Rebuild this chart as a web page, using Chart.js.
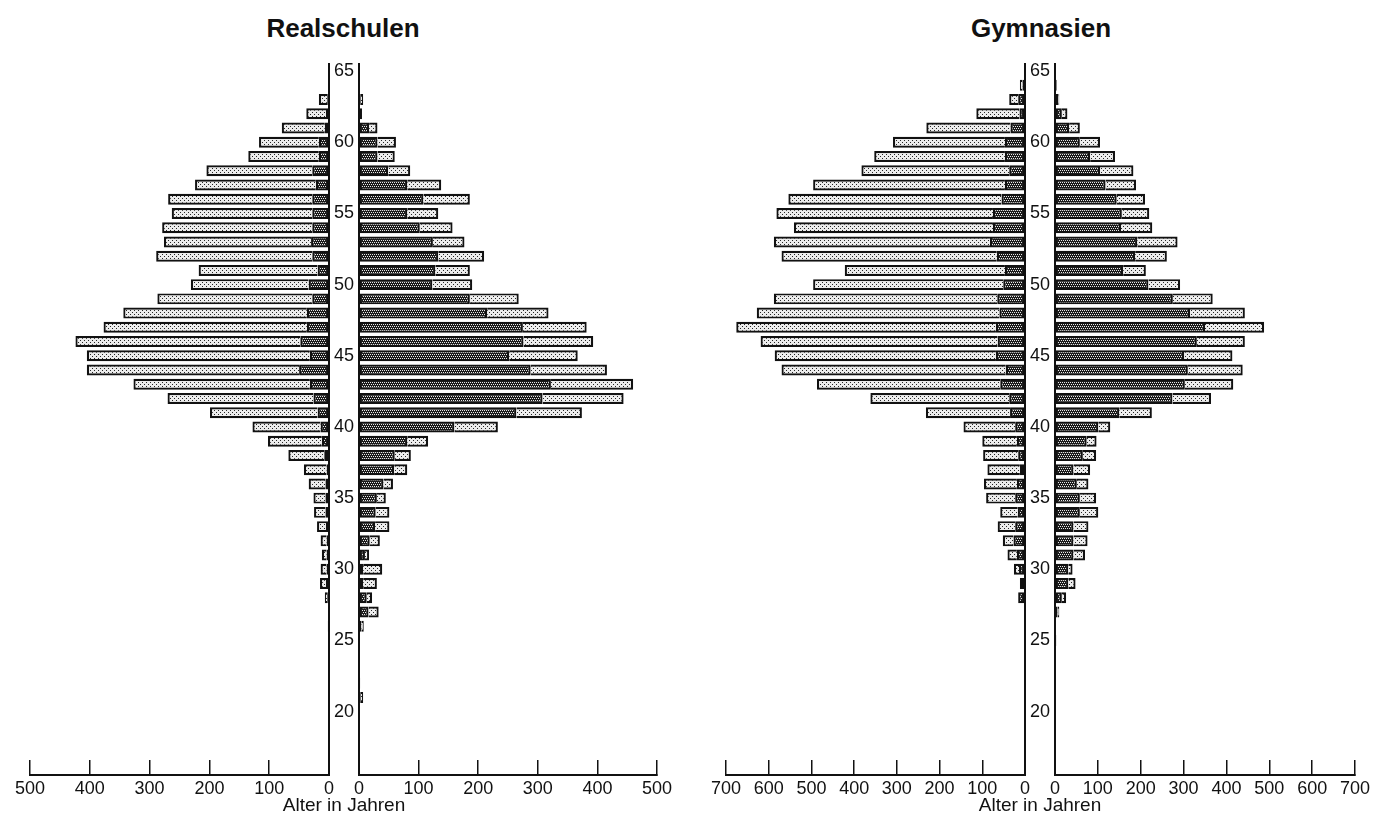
<!DOCTYPE html>
<html lang="de">
<head>
<meta charset="utf-8">
<title>Altersaufbau Realschulen und Gymnasien</title>
<script src="https://cdn.jsdelivr.net/npm/chart.js@4.4.1/dist/chart.umd.min.js"></script>
<style>
  html, body { margin: 0; padding: 0; background: #fff; }
  body {
    width: 1377px; height: 815px; position: relative; overflow: hidden;
    font-family: "Liberation Sans", Arial, sans-serif; color: #111;
  }
  canvas { position: absolute; top: 0; }
  .titel {
    position: absolute; top: 13px; font-size: 26px; font-weight: bold;
    transform: translateX(-50%); white-space: nowrap;
  }
  .achse {
    position: absolute; top: 794px; font-size: 19px;
    transform: translateX(-50%); white-space: nowrap;
  }
</style>
</head>
<body>
<div class="titel" style="left:343px">Realschulen</div>
<div class="titel" style="left:1041px">Gymnasien</div>

<canvas id="realLinks" width="340" height="815" style="left:0px"></canvas>
<canvas id="realRechts" width="350" height="815" style="left:329px"></canvas>
<canvas id="gymLinks" width="340" height="815" style="left:696px"></canvas>
<canvas id="gymRechts" width="352" height="815" style="left:1025px"></canvas>

<div class="achse" style="left:344px">Alter in Jahren</div>
<div class="achse" style="left:1040px">Alter in Jahren</div>

<script>
// Altersjahre 20 bis 64, jeweils ein Wert pro Jahr
const ages = [];
for (let a = 20; a <= 64; a++) ages.push(a);
const ageTicks = [20, 25, 30, 35, 40, 45, 50, 55, 60, 65];

// Realschulen, linke Seite (innen dunkel, außen hell)
const realLeftDark = [
  0, 0, 0, 0, 0, 0, 2, 0, 3, 5,
  4, 4, 4, 5, 6, 6, 6, 4, 8, 12,
  14, 19, 26, 32, 50, 32, 48, 37, 37, 28,
  34, 19, 28, 30, 28, 28, 28, 22, 28, 17,
  17, 7, 5, 3, 0
];
const realLeftLight = [
  0, 0, 0, 0, 0, 0, 0, 0, 4, 10,
  10, 8, 10, 15, 19, 20, 28, 38, 60, 90,
  114, 180, 244, 295, 355, 373, 376, 340, 307, 259,
  197, 199, 261, 246, 251, 235, 241, 202, 177, 118,
  100, 72, 33, 14, 0
];
// Realschulen, rechte Seite
const realRightDark = [
  0, 3, 2, 0, 0, 0, 4, 16, 13, 7,
  7, 10, 18, 27, 28, 30, 41, 59, 60, 81,
  160, 264, 308, 322, 288, 252, 276, 275, 215, 186,
  123, 128, 133, 124, 102, 81, 108, 81, 49, 31,
  31, 17, 5, 3, 0
];
const realRightLight = [
  0, 4, 0, 0, 0, 0, 4, 17, 9, 23,
  32, 7, 17, 24, 23, 15, 16, 22, 27, 35,
  73, 110, 136, 138, 128, 115, 117, 107, 103, 82,
  67, 58, 77, 53, 55, 52, 78, 57, 37, 29,
  31, 14, 0, 4, 0
];

// Gymnasien, linke Seite
const gymLeftDark = [
  0, 0, 0, 0, 0, 0, 0, 0, 16, 12,
  14, 19, 27, 23, 17, 23, 19, 12, 16, 19,
  23, 35, 37, 58, 45, 68, 64, 68, 60, 65,
  51, 47, 66, 82, 75, 75, 55, 47, 37, 47,
  47, 34, 13, 16, 6
];
const gymLeftLight = [
  0, 0, 0, 0, 0, 0, 0, 0, 0, 0,
  12, 22, 25, 41, 41, 68, 77, 76, 82, 81,
  121, 197, 325, 429, 525, 518, 555, 608, 568, 523,
  445, 375, 504, 506, 466, 507, 499, 449, 346, 306,
  262, 197, 101, 21, 6
];
// Gymnasien, rechte Seite
const gymRightDark = [
  0, 0, 0, 0, 0, 3, 0, 6, 16, 31,
  31, 43, 43, 43, 58, 58, 51, 43, 65, 74,
  101, 150, 274, 303, 310, 301, 331, 350, 315, 275,
  218, 159, 187, 192, 154, 156, 144, 118, 105, 82,
  58, 33, 16, 8, 4
];
const gymRightLight = [
  0, 0, 0, 0, 0, 0, 0, 4, 10, 17,
  10, 27, 33, 35, 43, 38, 27, 39, 31, 23,
  28, 76, 90, 113, 128, 113, 112, 138, 128, 93,
  74, 53, 74, 94, 73, 64, 66, 71, 78, 58,
  47, 25, 13, 2, 0
];

const ink = "#111";
const fontFamily = "'Liberation Sans', Arial, sans-serif";

// Rasterfüllungen für die beiden Balkenteile
function makePattern(bg, fg, dots) {
  const tile = document.createElement("canvas");
  tile.width = 4;
  tile.height = 4;
  const c = tile.getContext("2d");
  c.fillStyle = bg;
  c.fillRect(0, 0, 4, 4);
  c.fillStyle = fg;
  dots.forEach(([x, y]) => c.fillRect(x, y, 1, 1));
  return c.createPattern(tile, "repeat");
}
const darkFill = makePattern("#1a1a1a", "#e8e8e8", [[0, 0], [2, 0], [1, 2], [3, 2]]);
const lightFill = makePattern("#ececec", "#262626", [[0, 0], [2, 2]]);

function toPoints(values) {
  return ages.map((age, i) => ({ y: age, x: values[i] > 0 ? values[i] : null }));
}

// Eine Hälfte der Pyramide: side "left" wächst nach links, "right" nach rechts
function halfPyramid(id, dark, light, max, side) {
  const isLeft = side === "left";
  return new Chart(document.getElementById(id), {
    type: "bar",
    data: {
      datasets: [
        {
          data: toPoints(dark),
          backgroundColor: darkFill,
          borderColor: ink,
          borderWidth: 2.2,
          borderSkipped: false,
        },
        {
          data: toPoints(light),
          backgroundColor: lightFill,
          borderColor: ink,
          borderWidth: 2.2,
          borderSkipped: "start",
        },
      ],
    },
    options: {
      indexAxis: "y",
      responsive: false,
      animation: false,
      devicePixelRatio: 1,
      barPercentage: 0.77,
      categoryPercentage: 1,
      layout: {
        padding: isLeft
          ? { left: 30, right: 11, top: 64, bottom: 10 }
          : { left: 0, right: 22, top: 64, bottom: 10 },
      },
      plugins: { legend: { display: false }, tooltip: { enabled: false } },
      scales: {
        x: {
          type: "linear",
          min: 0,
          max: max,
          reverse: isLeft,
          stacked: true,
          ticks: {
            stepSize: 100,
            color: ink,
            padding: 18,
            maxRotation: 0,
            autoSkip: false,
            font: { family: fontFamily, size: 18 },
          },
          grid: {
            drawOnChartArea: false,
            drawTicks: true,
            tickLength: -15,
            color: ink,
            lineWidth: 1.5,
          },
          border: { display: true, color: ink, width: 2 },
          // feste Achsenhöhe, Beschriftung darf in den Rand ragen
          afterFit: (scale) => {
            scale.height = 30;
            scale.paddingLeft = 0;
            scale.paddingRight = 0;
          },
        },
        y: {
          type: "linear",
          min: 15.55,
          max: 65.5,
          offset: false,
          stacked: true,
          position: isLeft ? "right" : "left",
          afterBuildTicks: (scale) => {
            scale.ticks = ageTicks.map((v) => ({ value: v }));
          },
          ticks: {
            display: !isLeft,
            color: ink,
            padding: 5,
            font: { family: fontFamily, size: 18 },
          },
          grid: { display: false, drawTicks: false },
          border: { display: true, color: ink, width: 2 },
          afterFit: (scale) => {
            scale.width = isLeft ? 0 : 30;
            scale.paddingTop = 0;
            scale.paddingBottom = 0;
          },
        },
      },
    },
  });
}

halfPyramid("realLinks", realLeftDark, realLeftLight, 500, "left");
halfPyramid("realRechts", realRightDark, realRightLight, 500, "right");
halfPyramid("gymLinks", gymLeftDark, gymLeftLight, 700, "left");
halfPyramid("gymRechts", gymRightDark, gymRightLight, 700, "right");
</script>
</body>
</html>
